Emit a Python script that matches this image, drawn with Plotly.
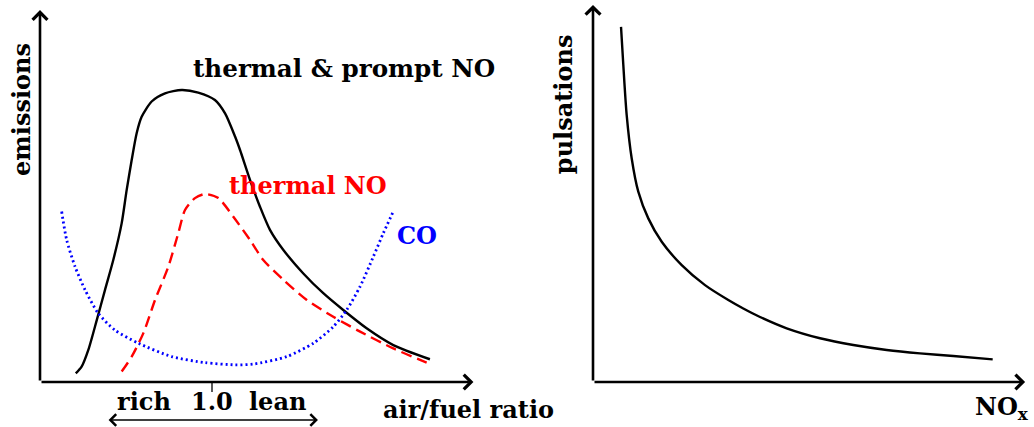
import plotly.graph_objects as go

# ---- data (schematic values) ----
# left panel: x = air/fuel ratio (1.0 = stoichiometric), y = emissions (arb. units)
tp_x = [0.208, 0.242, 0.281, 0.330, 0.378, 0.426, 0.475, 0.504, 0.533, 0.562, 0.591, 0.649, 0.727,
        0.824, 0.920, 1.017, 1.076, 1.134, 1.163, 1.221, 1.279, 1.337, 1.415, 1.531, 1.647, 1.763,
        1.899, 2.054, 2.267]
tp_y = [0.23, 0.41, 0.86, 1.66, 2.47, 3.27, 4.26, 5.15, 5.95, 6.67, 7.11, 7.52, 7.74,
        7.83, 7.76, 7.56, 7.20, 6.58, 6.22, 5.42, 4.70, 4.08, 3.54, 2.91, 2.38, 1.93,
        1.44, 0.99, 0.61]

th_x = [0.475, 0.533, 0.601, 0.669, 0.746, 0.804, 0.843, 0.901, 0.959, 1.037, 1.124, 1.221, 1.298,
        1.415, 1.551, 1.705, 1.861, 2.054, 2.248]
th_y = [0.28, 0.68, 1.31, 2.20, 3.09, 3.99, 4.61, 4.93, 5.04, 4.93, 4.43, 3.81, 3.27,
        2.74, 2.20, 1.75, 1.35, 0.90, 0.52]

co_x = [0.126, 0.155, 0.204, 0.262, 0.339, 0.436, 0.572, 0.766, 0.959, 1.134, 1.240, 1.434, 1.589,
        1.705, 1.783, 1.861, 1.938, 1.996, 2.054]
co_y = [4.57, 3.81, 3.09, 2.47, 1.84, 1.39, 1.04, 0.68, 0.52, 0.46, 0.48, 0.68, 1.04,
        1.48, 1.93, 2.56, 3.36, 3.99, 4.57]

# right panel: x = NOx, y = pulsations (arb. units)
pu_x = [0.647, 0.700, 0.778, 0.894, 1.046, 1.277, 1.587, 2.049, 2.587, 3.125, 3.471, 3.857, 4.473,
        5.243, 6.012, 6.783, 7.552, 8.321, 9.231]
pu_y = [9.42, 8.41, 7.08, 5.93, 5.05, 4.34, 3.72, 3.10, 2.57, 2.175, 1.95, 1.724, 1.424,
        1.16, 0.98, 0.85, 0.76, 0.69, 0.60]

tick_vals = [1.0]
tick_text = ["1.0"]

FONT = "DejaVu Serif"
FS = 24

fig = go.Figure()
fig.add_trace(go.Scatter(x=tp_x, y=tp_y, mode="lines", xaxis="x", yaxis="y",
                         line=dict(color="black", width=2.4, shape="spline", smoothing=0.7)))
fig.add_trace(go.Scatter(x=th_x, y=th_y, mode="lines", xaxis="x", yaxis="y",
                         line=dict(color="#ff0000", width=2.4, dash="11px,6px", shape="spline", smoothing=0.7)))
fig.add_trace(go.Scatter(x=co_x, y=co_y, mode="lines", xaxis="x", yaxis="y",
                         line=dict(color="#0000ff", width=2.8, dash="2px,3px", shape="spline", smoothing=0.7)))
fig.add_trace(go.Scatter(x=pu_x, y=pu_y, mode="lines", xaxis="x2", yaxis="y2",
                         line=dict(color="black", width=2.4, shape="spline", smoothing=0.8)))

ax_common = dict(visible=False, showgrid=False, zeroline=False, fixedrange=True)
fig.update_layout(
    width=1034, height=427,
    margin=dict(l=0, r=0, t=0, b=0),
    paper_bgcolor="white", plot_bgcolor="white",
    showlegend=False,
    xaxis=dict(domain=[0, 0.5], range=[-40/172, 477/172], anchor="y", **ax_common),
    yaxis=dict(domain=[0, 1], range=[-45/37.3, 382/37.3], anchor="x", **ax_common),
    xaxis2=dict(domain=[0.5, 1], range=[-76/43.3, 441/43.3], anchor="y2", **ax_common),
    yaxis2=dict(domain=[0, 1], range=[-45/37.7, 382/37.7], anchor="x2", **ax_common),
)

def arrow(xr, yr, x0, y0, x1, y1, both=False, width=2.6, size=1.1):
    fig.add_annotation(x=x1, y=y1, ax=x0, ay=y0, xref=xr, yref=yr, axref=xr, ayref=yr,
                       text="", showarrow=True, arrowhead=4, arrowsize=size, arrowwidth=width,
                       arrowcolor="black", arrowside="end+start" if both else "end",
                       startarrowhead=4, startarrowsize=size, standoff=0, startstandoff=0)

# axes with arrow heads
arrow("x", "y", 0, 0, 2.52, 0)
arrow("x", "y", 0, 0, 0, 9.97)
arrow("x2", "y2", 0, 0, 9.98, 0)
arrow("x2", "y2", 0, 0, 0, 10.0)
# rich <-> lean double arrow
arrow("x", "y", 0.39, -1.02, 1.616, -1.02, both=True, width=1.6, size=1.4)

# tick at 1.0
fig.add_shape(type="line", xref="x", yref="y", x0=tick_vals[0], x1=tick_vals[0], y0=0, y1=-0.27,
              line=dict(color="black", width=1.3))

def label(xr, yr, x, y, text, color="black", xanchor="left", angle=0, size=FS):
    fig.add_annotation(x=x, y=y, xref=xr, yref=yr, text=text, showarrow=False,
                       xanchor=xanchor, yanchor="middle", textangle=angle,
                       font=dict(family=FONT, size=size, color=color))

label("x", "y", -0.105, 7.32, "<b>emissions</b>", xanchor="center", angle=-90)
label("x", "y", 0.878, 8.40, "<b>thermal &amp; prompt NO</b>", size=24.6)
label("x", "y", 1.085, 5.28, "<b>thermal NO</b>", color="#ff0000")
label("x", "y", 2.065, 3.93, "<b>CO</b>", color="#0000ff")
label("x", "y", 0.602, -0.52, "<b>rich</b>", xanchor="center")
label("x", "y", tick_vals[0], -0.52, "<b>" + tick_text[0] + "</b>", xanchor="center")
label("x", "y", 1.381, -0.52, "<b>lean</b>", xanchor="center")
label("x", "y", 1.983, -0.74, "<b>air/fuel ratio</b>")
label("x2", "y2", -0.693, 7.37, "<b>pulsations</b>", xanchor="center", angle=-90)
label("x2", "y2", 8.78, -0.70, "<b>NO<sub>x</sub></b>")

fig.write_html("out.html", config={"displayModeBar": False},
               post_script="document.body.style.margin='0px';")
